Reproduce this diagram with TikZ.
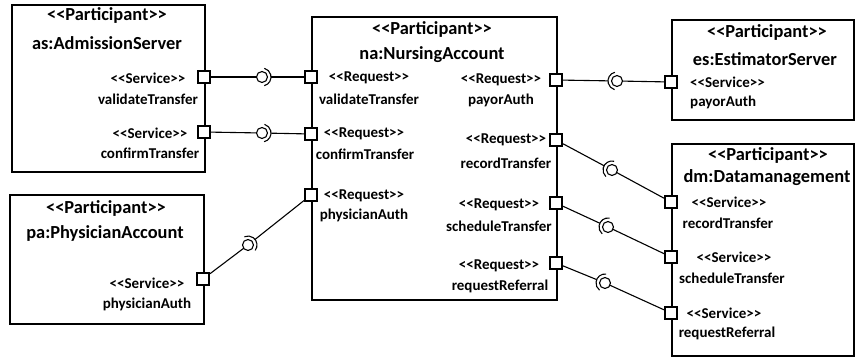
\documentclass[tikz,border=0pt]{standalone}
\usepackage{fontspec}
\setmainfont{Carlito}
\usetikzlibrary{calc}
\newcommand{\stereo}[1]{<{}<#1>{}>}
\newcommand{\bsock}[3]{%
  \coordinate (B) at #3;
  \draw[conn] (#1) -- ($(B)!5.5pt!(#1)$);
  \draw[conn] (B) circle[radius=5.5pt];
  \draw[conn] let \p1=($(#2)-(B)$), \n1={atan2(\y1,\x1)} in
    ($(B)+(\n1-75:9pt)$) arc[start angle=\n1-75, end angle=\n1+75, radius=9pt];
  \draw[conn] ($(B)!9pt!(#2)$) -- (#2);
}
\begin{document}
\begin{tikzpicture}[x=1pt,y=-1pt,
  box/.style={draw, line width=2pt, inner sep=0, anchor=north west},
  port/.style={draw, line width=1.6pt, fill=white, minimum size=12.5pt, inner sep=0},
  big/.style={font=\bfseries\fontsize{18.4}{20}\selectfont, inner sep=0},
  small/.style={font=\bfseries\fontsize{15}{17}\selectfont, inner sep=0},
  conn/.style={line width=1.1pt}]
\useasboundingbox (0,0) rectangle (855,358);

% participant boxes
\node[box, minimum width=193pt, minimum height=167pt] (as) at (11,4) {};
\node[box, minimum width=245pt, minimum height=283pt] (na) at (311,16) {};
\node[box, minimum width=182pt, minimum height=100pt] (es) at (671,19) {};
\node[box, minimum width=182pt, minimum height=212pt] (dm) at (671,143) {};
\node[box, minimum width=194pt, minimum height=129pt] (pa) at (9,194) {};

% titles
\node[big] (asT1) at (107,15) {\stereo{Participant}};
\node[big] (asT2) at (107,43) {as:AdmissionServer};
\node[big] (naT1) at (432,29) {\stereo{Participant}};
\node[big] (naT2) at (432,55) {na:NursingAccount};
\node[big] (esT1) at (767,32) {\stereo{Participant}};
\node[big] (esT2) at (765,59) {es:EstimatorServer};
\node[big] (dmT1) at (768,155) {\stereo{Participant}};
\node[big] (dmT2) at (767,178) {dm:Datamanagement};
\node[big] (paT1) at (106,208) {\stereo{Participant}};
\node[big] (paT2) at (105,233) {pa:PhysicianAccount};

% port labels
\node[small] (l1a) at (148,78) {\stereo{Service}};
\node[small] (l1b) at (148,99) {validateTransfer};
\node[small] (l2a) at (150,133) {\stereo{Service}};
\node[small] (l2b) at (150,153) {confirmTransfer};
\node[small] (l3a) at (369,78) {\stereo{Request}};
\node[small] (l3b) at (369,99) {validateTransfer};
\node[small] (l4a) at (364,134) {\stereo{Request}};
\node[small] (l4b) at (365,154) {confirmTransfer};
\node[small] (l5a) at (364,196) {\stereo{Request}};
\node[small] (l5b) at (364,215) {physicianAuth};
\node[small] (l6a) at (501,80) {\stereo{Request}};
\node[small] (l6b) at (501,100) {payorAuth};
\node[small] (l7a) at (506,140) {\stereo{Request}};
\node[small] (l7b) at (506,163) {recordTransfer};
\node[small] (l8a) at (499,205) {\stereo{Request}};
\node[small] (l8b) at (499,226) {scheduleTransfer};
\node[small] (l9a) at (499,266) {\stereo{Request}};
\node[small] (l9b) at (500,286) {requestReferral};
\node[small, anchor=west] (l10a) at (690,82) {\stereo{Service}};
\node[small, anchor=west] (l10b) at (690,102) {payorAuth};
\node[small] (l11a) at (729,202) {\stereo{Service}};
\node[small] (l11b) at (728,223) {recordTransfer};
\node[small] (l12a) at (734,257) {\stereo{Service}};
\node[small] (l12b) at (732,278) {scheduleTransfer};
\node[small] (l13a) at (724,313) {\stereo{Service}};
\node[small] (l13b) at (727,333) {requestReferral};
\node[small] (l14a) at (147,283) {\stereo{Service}};
\node[small] (l14b) at (147,304) {physicianAuth};

% ports
\node[port] (asv) at (204,77) {};
\node[port] (asc) at (204,132) {};
\node[port] (nav) at (311,77) {};
\node[port] (nac) at (311,134) {};
\node[port] (nap) at (311,195) {};
\node[port] (napa) at (556,80) {};
\node[port] (nar) at (556,140) {};
\node[port] (nas) at (556,203) {};
\node[port] (narr) at (556,263) {};
\node[port] (esp) at (671,82) {};
\node[port] (dmr) at (671,202) {};
\node[port] (dms) at (671,257) {};
\node[port] (dmq) at (671,313) {};
\node[port] (pap) at (203,279) {};

% ball-and-socket connectors (provider, requester, ball position)
\bsock{asv}{nav}{(262,77)}
\bsock{asc}{nac}{(262,133)}
\bsock{pap}{nap}{(248,245)}
\bsock{esp}{napa}{(617,81)}
\bsock{dmr}{nar}{(612,170)}
\bsock{dms}{nas}{(608,227)}
\bsock{dmq}{narr}{(605,283)}
\end{tikzpicture}
\end{document}
